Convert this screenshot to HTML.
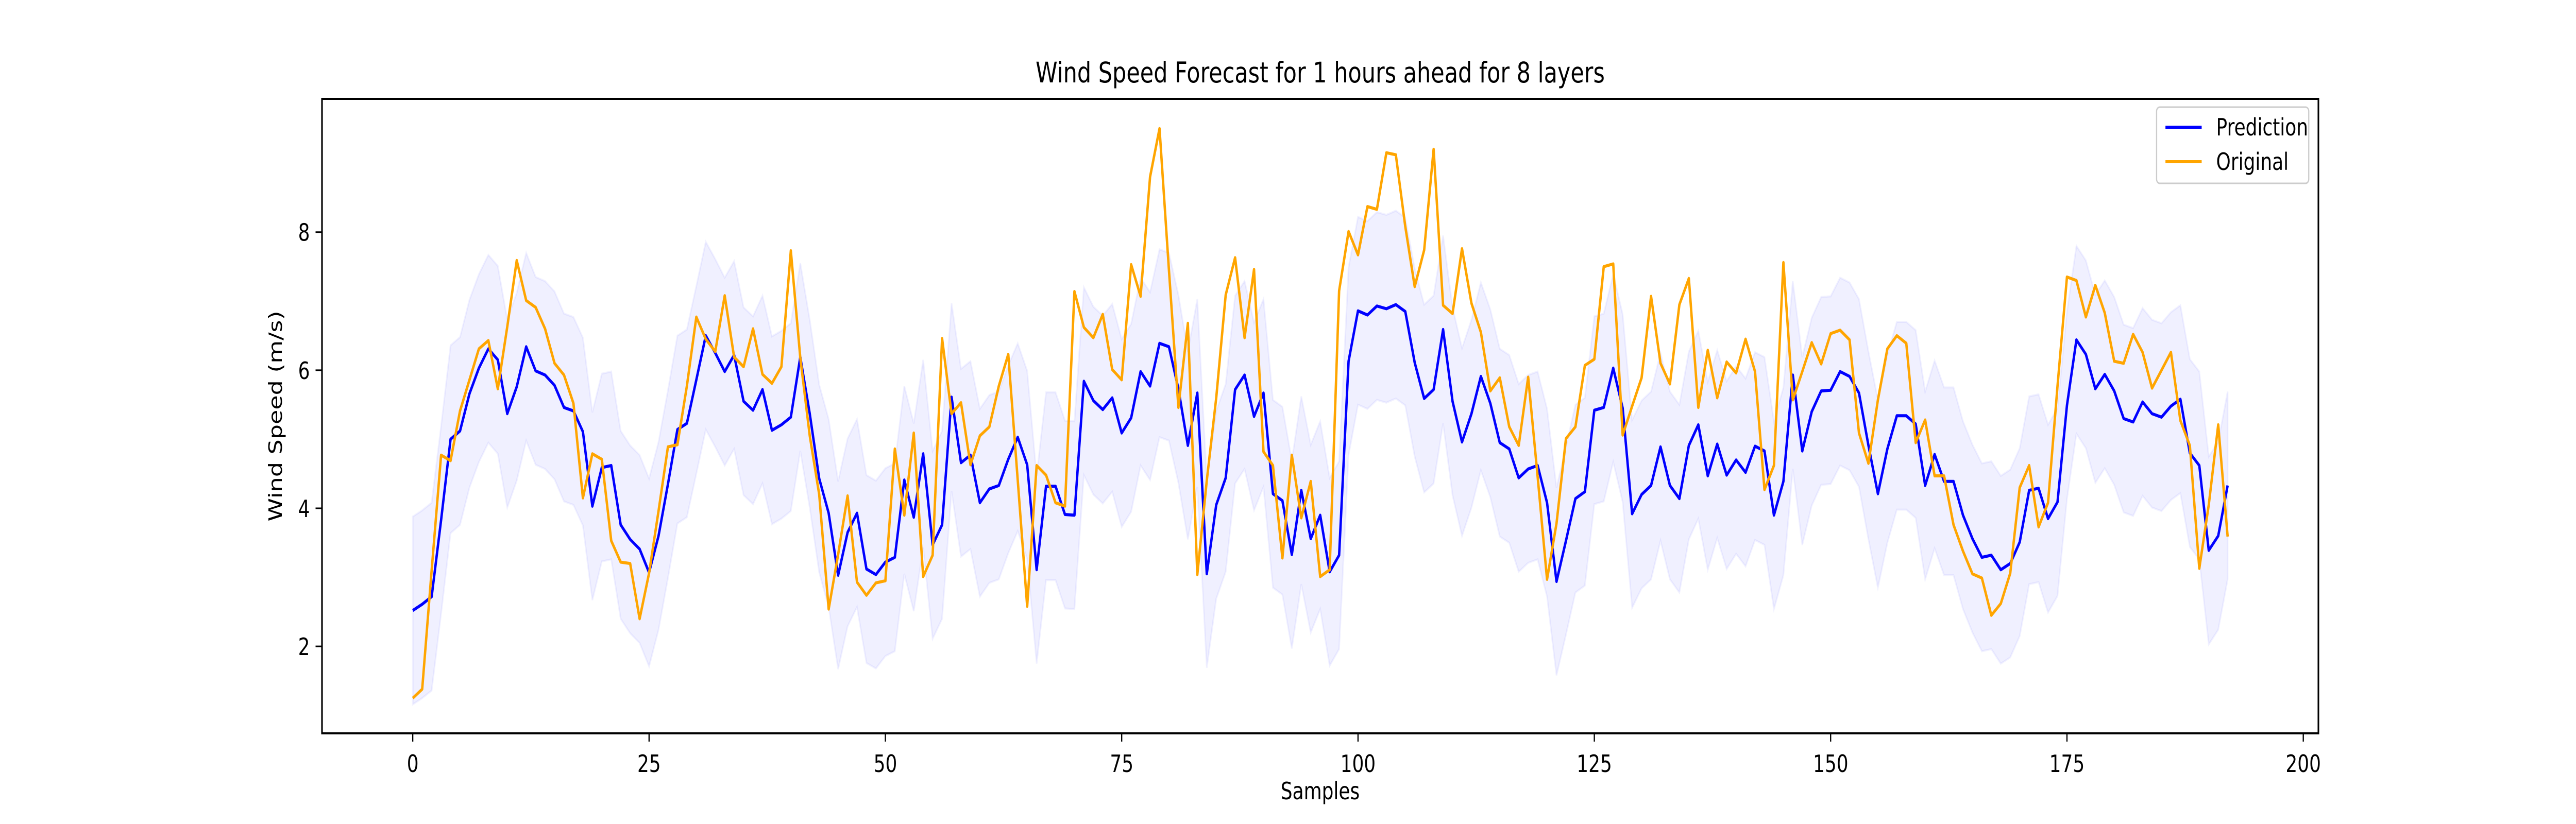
<!DOCTYPE html>
<html><head><meta charset="utf-8"><style>
html,body{margin:0;padding:0;background:#fff;overflow:hidden;width:100%;height:100%;}
svg{display:block;width:100vw;height:100vh;font-family:"DejaVu Sans","Liberation Sans",sans-serif;}
</style></head><body>
<svg id="chart" viewBox="0 0 6400 1600" preserveAspectRatio="none" xmlns="http://www.w3.org/2000/svg">
<rect x="0" y="0" width="6400" height="1600" fill="#fff"/>
<text x="3280" y="160" font-size="55" text-anchor="middle" fill="#000">Wind Speed Forecast for 1 hours ahead for 8 layers</text>
<g id="plot"></g>
<rect x="800" y="192" width="4960" height="1232" fill="none" stroke="#000" stroke-width="4"/>
<g id="axes"></g>
<text x="3280" y="1552" font-size="46" text-anchor="middle" fill="#000">Samples</text>
<text transform="translate(700,808) rotate(-90)" font-size="46" text-anchor="middle" fill="#000">Wind Speed (m/s)</text>
<g>
<rect x="5358" y="208" width="378" height="148" rx="8" fill="#fff" fill-opacity="0.8" stroke="#ccc" stroke-width="3"/>
<line x1="5380" y1="247" x2="5470" y2="247" stroke="#0000ff" stroke-width="6"/>
<text x="5506" y="263" font-size="46" fill="#000">Prediction</text>
<line x1="5380" y1="314" x2="5470" y2="314" stroke="#ffa500" stroke-width="6"/>
<text x="5506" y="330" font-size="46" fill="#000">Original</text>
</g>
</svg>
<script>
const prediction = [2.52,2.61,2.72,3.83,5.00,5.12,5.66,6.03,6.31,6.15,5.37,5.76,6.34,5.99,5.93,5.78,5.46,5.41,5.11,4.03,4.59,4.62,3.76,3.55,3.41,3.07,3.60,4.35,5.14,5.23,5.86,6.50,6.25,5.98,6.22,5.55,5.42,5.72,5.13,5.21,5.32,6.19,5.37,4.43,3.93,3.03,3.65,3.93,3.12,3.04,
3.22,3.29,4.41,3.87,4.79,3.47,3.76,5.61,4.66,4.77,4.08,4.28,4.33,4.71,5.03,4.63,3.11,4.32,4.32,3.91,3.90,5.84,5.56,5.43,5.60,5.09,5.31,5.98,5.77,6.39,6.34,5.73,4.91,5.67,3.05,4.05,4.44,5.72,5.93,5.33,5.67,4.21,4.11,3.33,4.26,3.56,3.90,3.08,3.32,6.13,
6.86,6.80,6.93,6.89,6.95,6.85,6.11,5.59,5.72,6.59,5.55,4.96,5.37,5.91,5.52,4.95,4.86,4.44,4.57,4.62,4.08,2.94,3.53,4.14,4.24,5.42,5.46,6.03,5.45,3.92,4.20,4.33,4.89,4.33,4.14,4.91,5.21,4.47,4.93,4.48,4.70,4.52,4.90,4.83,3.90,4.39,5.93,4.83,5.40,5.70,
5.71,5.98,5.91,5.67,4.91,4.21,4.86,5.34,5.34,5.22,4.33,4.78,4.39,4.39,3.90,3.56,3.29,3.32,3.11,3.20,3.51,4.26,4.29,3.85,4.09,5.49,6.44,6.23,5.73,5.94,5.70,5.30,5.25,5.54,5.37,5.32,5.48,5.58,4.80,4.62,3.39,3.60,4.33];
const original = [1.25,1.38,3.10,4.77,4.69,5.41,5.86,6.31,6.43,5.73,6.63,7.59,7.01,6.91,6.60,6.10,5.93,5.52,4.15,4.79,4.71,3.53,3.22,3.20,2.40,3.06,3.96,4.89,4.92,5.77,6.77,6.45,6.27,7.08,6.19,6.05,6.60,5.94,5.81,6.05,7.73,6.18,5.05,4.20,2.54,3.33,4.18,2.93,2.74,2.92,
2.95,4.86,3.90,5.09,3.01,3.32,6.46,5.37,5.53,4.63,5.05,5.18,5.77,6.23,4.41,2.58,4.62,4.48,4.08,4.03,7.14,6.62,6.47,6.81,6.01,5.86,7.53,7.07,8.80,9.50,7.45,5.46,6.68,3.04,4.40,5.60,7.09,7.63,6.47,7.46,4.82,4.62,3.28,4.77,3.86,4.39,3.01,3.11,7.15,8.01,
7.67,8.37,8.33,9.15,9.12,8.08,7.21,7.74,9.20,6.94,6.82,7.76,6.97,6.55,5.70,5.89,5.18,4.91,5.90,4.46,2.97,3.78,5.01,5.18,6.07,6.16,7.50,7.54,5.06,5.48,5.89,7.07,6.10,5.80,6.95,7.33,5.46,6.29,5.60,6.12,5.96,6.45,5.98,4.27,4.62,7.56,5.57,5.98,6.40,6.09,
6.53,6.58,6.44,5.09,4.65,5.57,6.31,6.50,6.39,4.95,5.28,4.47,4.47,3.76,3.38,3.05,2.99,2.45,2.62,3.06,4.30,4.62,3.73,4.08,5.77,7.35,7.30,6.77,7.23,6.83,6.13,6.10,6.52,6.26,5.74,6.00,6.26,5.27,4.91,3.13,4.05,5.21,3.59];
const uncertainty = 1.36;
const xTicks = [0,25,50,75,100,125,150,175,200];
const yTicks = [2,4,6,8];

const NS = "http://www.w3.org/2000/svg";
const L=800,R=5760,T=192,B=1424;
const xMin=-9.6,xMax=201.6,yMin=0.74,yMax=9.93;
function sx(v){return L+(v-xMin)/(xMax-xMin)*(R-L);}
function sy(v){return B-(v-yMin)/(yMax-yMin)*(B-T);}
function mk(tag,attrs,parent){const e=document.createElementNS(NS,tag);for(const k in attrs)e.setAttribute(k,attrs[k]);parent.appendChild(e);return e;}
const plot=document.getElementById('plot');
const axes=document.getElementById('axes');

let up=[],lo=[];
prediction.forEach((p,i)=>{up.push(sx(i).toFixed(1)+','+sy(p+uncertainty).toFixed(1));lo.push(sx(i).toFixed(1)+','+sy(p-uncertainty).toFixed(1));});
const band=mk('polygon',{points:up.concat(lo.reverse()).join(' '),fill:'#0000ff','fill-opacity':'0.06',stroke:'#0000ff','stroke-opacity':'0.05','stroke-width':'4'},plot);



const pl=mk('polyline',{points:prediction.map((v,i)=>sx(i).toFixed(1)+','+sy(v).toFixed(1)).join(' '),fill:'none',stroke:'#0000ff','stroke-width':'6','stroke-linejoin':'round'},plot);


const ol=mk('polyline',{points:original.map((v,i)=>sx(i).toFixed(1)+','+sy(v).toFixed(1)).join(' '),fill:'none',stroke:'#ffa500','stroke-width':'6','stroke-linejoin':'round'},plot);



xTicks.forEach(t=>{
  const x=sx(t);
  const tk=mk('line',{x1:x,y1:B,x2:x,y2:B+16,stroke:'#000','stroke-width':'3'},axes);
  
  
  const tx=mk('text',{x:x,y:B+75,'font-size':'46','text-anchor':'middle',fill:'#000'},axes);
  tx.textContent=t;
  
  
});
yTicks.forEach(t=>{
  const y=sy(t);
  const tk=mk('line',{x1:L-16,y1:y,x2:L,y2:y,stroke:'#000','stroke-width':'3'},axes);
  
  
  const tx=mk('text',{x:L-30,y:y+17,'font-size':'46','text-anchor':'end',fill:'#000'},axes);
  tx.textContent=t;
  
  
});
</script>
</body></html>
